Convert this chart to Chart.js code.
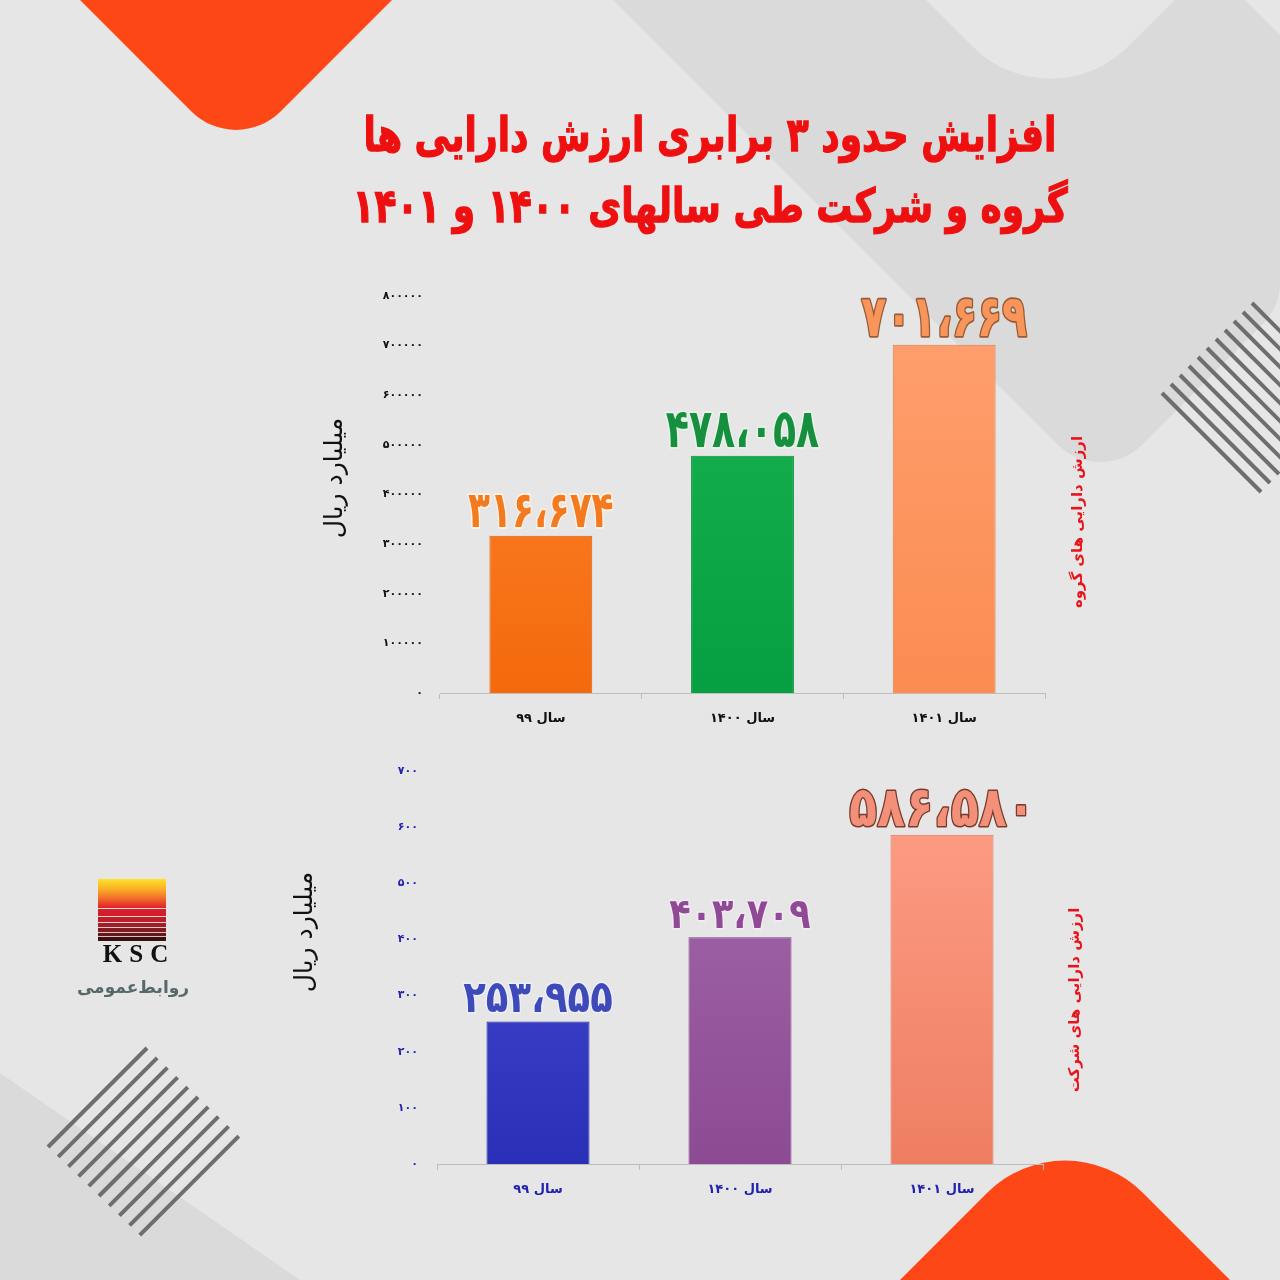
<!DOCTYPE html>
<html>
<head>
<meta charset="utf-8">
<script src="https://cdn.jsdelivr.net/npm/chart.js@4.4.1/dist/chart.umd.min.js"></script>
<style>
  html, body { margin: 0; padding: 0; }
  body { width: 1280px; height: 1280px; position: relative; overflow: hidden; background: #e6e6e6; font-family: "DejaVu Sans", sans-serif; }
  #bg { position: absolute; left: 0; top: 0; }
  #title { position: absolute; left: 300px; top: 99px; width: 820px; text-align: center; direction: rtl;
           color: #ee1010; font-weight: bold; font-size: 36px; line-height: 55px;
           -webkit-text-stroke: 1px #ee1010; transform: scaleY(1.3); transform-origin: 50% 0; }
  .chart { position: absolute; }
  #logo { position: absolute; left: 98px; top: 879px; width: 68px; height: 62px;
    background: linear-gradient(#fde42c 0, #f9b026 10px, #f2682a 20px, #e3262b 28px, #dc1f2b 29px,
      #f6dada 29px, #f6dada 30px, #d41f2b 30px, #d41f2b 37px, #f3d2d2 37px, #f3d2d2 38px,
      #bb1f2b 38px, #bb1f2b 43px, #efcaca 43px, #efcaca 44px, #9c1f2a 44px, #9c1f2a 48px,
      #e8c4c4 48px, #e8c4c4 49px, #7f1b22 49px, #7f1b22 53px, #e0c0c0 53px, #e0c0c0 54px,
      #64171a 54px, #64171a 57px, #d8c0c0 57px, #d8c0c0 58px, #3a1010 58px, #3a1010 62px); }
  #ksc { position: absolute; left: 90px; top: 940px; width: 84px; text-align: center;
         font-family: "Liberation Serif", serif; font-weight: bold; font-size: 25px; letter-spacing: 7px; padding-left: 7px; color: #111; }
  #pr { position: absolute; left: 60px; top: 977px; width: 146px; text-align: center; direction: rtl;
        font-weight: bold; font-size: 17px; color: #56686a; }
</style>
</head>
<body>
<canvas id="bg" width="1280" height="1280"></canvas>
<div id="title">افزایش حدود ۳ برابری ارزش دارایی ها<br>گروه و شرکت طی سالهای ۱۴۰۰ و ۱۴۰۱</div>
<div class="chart" style="left:280px;top:260px;"><canvas id="groupChart" width="840" height="480"></canvas></div>
<div class="chart" style="left:260px;top:740px;"><canvas id="companyChart" width="860" height="470"></canvas></div>
<div id="logo"></div>
<div id="ksc">KSC</div>
<div id="pr">روابط‌عمومی</div>
<script>
// data
var years = ['سال ۹۹', 'سال ۱۴۰۰', 'سال ۱۴۰۱'];
var groupValues = [316674, 478058, 701669];
var groupLabels = ['۳۱۶،۶۷۴', '۴۷۸،۰۵۸', '۷۰۱،۶۶۹'];
var companyValues = [253.955, 403.709, 586.580];
var companyLabels = ['۲۵۳،۹۵۵', '۴۰۳،۷۰۹', '۵۸۶،۵۸۰'];
var groupMax = 800000, groupStep = 100000;
var companyMax = 700, companyStep = 100;

function fa(n) {
  return String(n).replace(/\d/g, function(d) { return '۰۱۲۳۴۵۶۷۸۹'[d]; });
}

// background shapes
var bg = document.getElementById('bg').getContext('2d');
function shape(pts, r, color) {
  bg.beginPath();
  bg.moveTo(pts[0][0], pts[0][1]);
  for (var i = 1; i < pts.length - 1; i++) {
    bg.arcTo(pts[i][0], pts[i][1], pts[i + 1][0], pts[i + 1][1], r);
  }
  bg.lineTo(pts[pts.length - 1][0], pts[pts.length - 1][1]);
  bg.closePath();
  bg.fillStyle = color;
  bg.fill();
}
shape([[613, 0], [1100, 487], [1280, 307], [1280, 0]], 60, '#dadada');
shape([[926, 0], [1050, 124], [1175, 0]], 110, '#e6e6e6');
shape([[1245, 0], [1280, 35], [1280, 0]], 0, '#e6e6e6');
shape([[0, 1073], [300, 1280], [0, 1280]], 0, '#dadada');
shape([[80, 0], [236, 156], [392, 0]], 63, '#fd4716');
shape([[890, 1290], [1065, 1115], [1240, 1290]], 110, '#fd4716');

bg.strokeStyle = '#6e6e6e';
bg.lineWidth = 4;
for (var i = 0; i < 11; i++) {
  var sx = 1162 + i * 9, sy = 393 - i * 9;
  bg.beginPath(); bg.moveTo(sx, sy); bg.lineTo(sx + 99, sy + 99); bg.stroke();
}
for (var j = 0; j < 10; j++) {
  var lx = 48 + j * 10.2, ly = 1147 + j * 9.8;
  bg.beginPath(); bg.moveTo(lx, ly); bg.lineTo(lx + 99, ly - 99); bg.stroke();
}

// plugins
function valueLabels(texts, sizes, fills, strokes, stretch) {
  return {
    id: 'valueLabels',
    afterDatasetsDraw: function(chart) {
      var ctx = chart.ctx;
      chart.getDatasetMeta(0).data.forEach(function(bar, i) {
        ctx.save();
        ctx.translate(bar.x, bar.y - 9);
        ctx.scale(1, stretch);
        ctx.font = 'bold ' + sizes[i] + 'px "DejaVu Sans"';
        ctx.textAlign = 'center';
        ctx.textBaseline = 'alphabetic';
        ctx.lineJoin = 'round';
        ctx.lineWidth = 2.5;
        ctx.strokeStyle = strokes[i];
        ctx.strokeText(texts[i], 0, 0);
        ctx.fillStyle = fills[i];
        ctx.fillText(texts[i], 0, 0);
        ctx.restore();
      });
    }
  };
}
function sideTitles(cfg) {
  return {
    id: 'sideTitles',
    afterDraw: function(chart) {
      var ctx = chart.ctx;
      var a = chart.chartArea;
      ctx.save();
      ctx.translate(a.right + cfg.sideDx, cfg.sideY);
      ctx.rotate(-Math.PI / 2);
      ctx.font = 'bold 15px "DejaVu Sans"';
      ctx.fillStyle = '#e8141a';
      ctx.textAlign = 'center';
      ctx.textBaseline = 'middle';
      ctx.fillText(cfg.side, 0, 0);
      ctx.restore();

      ctx.save();
      ctx.translate(cfg.unitX, cfg.unitY);
      ctx.rotate(-Math.PI / 2);
      ctx.font = '25px "DejaVu Sans"';
      ctx.fillStyle = '#111';
      ctx.textAlign = 'center';
      ctx.textBaseline = 'middle';
      ctx.fillText('میلیارد ریال', 0, 0);
      ctx.restore();
    }
  };
}
function grad(pairs) {
  return function(c) {
    var a = c.chart.chartArea;
    var p = pairs[c.dataIndex];
    if (!a) return p[0];
    var g = c.chart.ctx.createLinearGradient(0, a.top, 0, a.bottom);
    g.addColorStop(0, p[0]);
    g.addColorStop(1, p[1]);
    return g;
  };
}

function makeChart(id, cfg) {
  return new Chart(document.getElementById(id), {
    type: 'bar',
    data: {
      labels: years,
      datasets: [{
        data: cfg.values,
        backgroundColor: grad(cfg.colors),
        borderColor: cfg.borders,
        borderWidth: 1,
        barPercentage: 0.51,
        categoryPercentage: 1
      }]
    },
    options: {
      responsive: false,
      devicePixelRatio: 1,
      animation: false,
      layout: { padding: { left: 0, right: cfg.padRight, top: cfg.padTop, bottom: 0 } },
      plugins: { legend: { display: false }, tooltip: { enabled: false } },
      scales: {
        x: {
          afterFit: function(s) { s.height = cfg.xHeight; },
          grid: { display: true, drawOnChartArea: false, drawTicks: true, tickLength: 6, color: '#bdbdbd' },
          border: { display: true, color: '#bdbdbd', width: 1 },
          ticks: { color: cfg.tickColor, padding: 12, font: { family: 'DejaVu Sans', size: 13, weight: 'bold' } }
        },
        y: {
          min: 0, max: cfg.max,
          afterFit: function(s) { s.width = cfg.yWidth; },
          grid: { display: false, drawTicks: false },
          border: { display: false },
          ticks: {
            stepSize: cfg.step, color: cfg.tickColor, padding: cfg.tickPad,
            font: { family: 'DejaVu Sans', size: 11, weight: 'bold' },
            callback: function(v) { return fa(v); }
          }
        }
      }
    },
    plugins: [valueLabels(cfg.labels, cfg.sizes, cfg.fills, cfg.strokes, cfg.stretch), sideTitles(cfg)]
  });
}

makeChart('groupChart', {
  values: groupValues, labels: groupLabels, max: groupMax, step: groupStep,
  colors: [['#ff8a33', '#f4690c'], ['#1cb451', '#069f41'], ['#ffa070', '#fb8c52']],
  borders: ['#d9600f', '#0b8a3a', '#e07a45'],
  sizes: [36, 38, 41], stretch: 1.4,
  fills: ['#f47a1f', '#16903f', '#f7955a'],
  strokes: ['#fff3e6', '#e8f5ea', '#9a5a34'],
  tickColor: '#111', padRight: 75, padTop: 36, xHeight: 47, yWidth: 160, tickPad: 17,
  side: 'ارزش دارایی های گروه', sideDx: 33, sideY: 262, unitX: 55, unitY: 218
});

makeChart('companyChart', {
  values: companyValues, labels: companyLabels, max: companyMax, step: companyStep,
  colors: [['#4a52d4', '#2a2fb8'], ['#a76dae', '#8c4a93'], ['#ffa088', '#ee7e62']],
  borders: ['#2228a0', '#7a3f82', '#e07058'],
  sizes: [37, 35, 46], stretch: 1.2,
  fills: ['#3d4ab8', '#8e4a94', '#f2907a'],
  strokes: ['#eef0ff', '#f5eaf6', '#7a3a2c'],
  tickColor: '#2323b0', padRight: 77, padTop: 31, xHeight: 46, yWidth: 177, tickPad: 19,
  side: 'ارزش دارایی های شرکت', sideDx: 32, sideY: 260, unitX: 45, unitY: 192
});
</script>
</body>
</html>
